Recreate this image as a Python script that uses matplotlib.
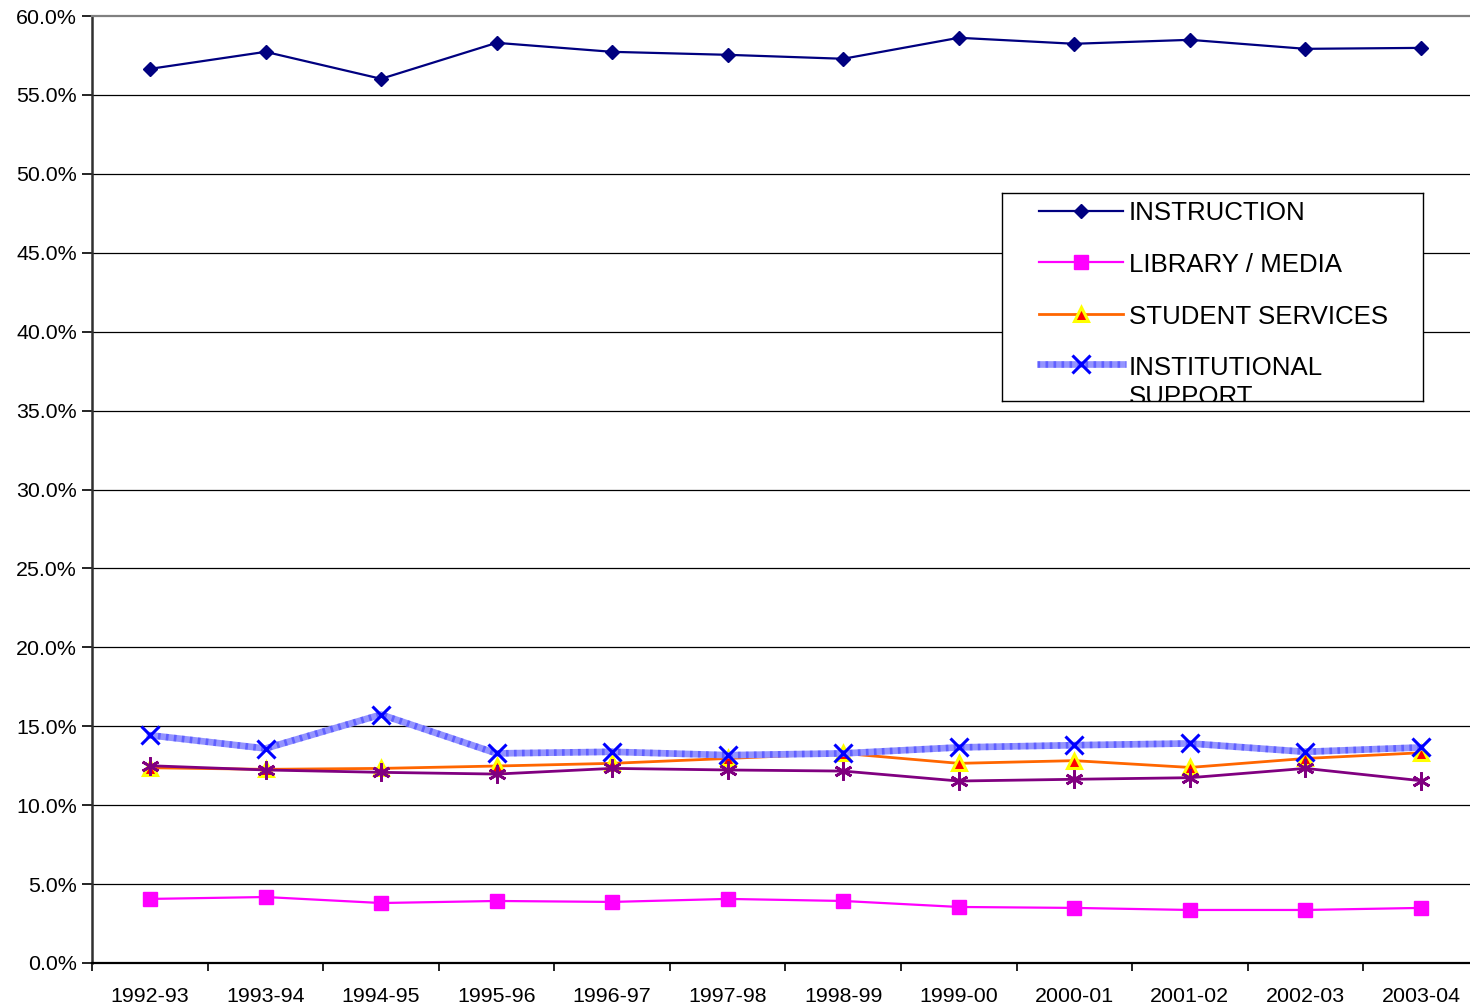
import matplotlib
matplotlib.use("Agg")
import matplotlib.pyplot as plt
import numpy as np
from matplotlib.ticker import FuncFormatter, FixedLocator

plt.rcParams['font.family'] = ['Liberation Sans', 'DejaVu Sans']

years = ["1992-93", "1993-94", "1994-95", "1995-96", "1996-97", "1997-98",
         "1998-99", "1999-00", "2000-01", "2001-02", "2002-03", "2003-04"]

instruction = [56.65, 57.73, 56.02, 58.30, 57.73, 57.54, 57.29, 58.62, 58.24, 58.49, 57.92, 57.98]
library_media = [4.06, 4.18, 3.80, 3.93, 3.87, 4.06, 3.93, 3.55, 3.49, 3.36, 3.36, 3.49]
student_services = [12.37, 12.27, 12.33, 12.48, 12.65, 12.96, 13.28, 12.65, 12.82, 12.39, 12.96, 13.32]
institutional_support = [14.43, 13.59, 15.74, 13.28, 13.38, 13.17, 13.28, 13.66, 13.80, 13.91, 13.38, 13.66]
other_series = [12.50, 12.23, 12.08, 11.97, 12.33, 12.23, 12.16, 11.53, 11.64, 11.74, 12.33, 11.55]

y_ticks = [0, 5, 10, 15, 20, 25, 30, 35, 40, 45, 50, 55, 60]
legend_labels = ["INSTRUCTION", "LIBRARY / MEDIA", "STUDENT SERVICES", "INSTITUTIONAL", "SUPPORT"]

W, H = 1470, 1008
fig = plt.figure(figsize=(W / 100, H / 100), dpi=100)
ax = fig.add_axes([92.2 / W, 45 / H, 1386.6 / W, 947 / H])

x = np.arange(len(years))

# styles
s_instr = dict(color='#000080', lw=1.6, marker='D', ms=7.5, mfc='#000080', mec='#000080')
s_lib = dict(color='#FF00FF', lw=1.6, marker='s', ms=10.5, mfc='#FF00FF', mec='#FF00FF')
s_stu = dict(color='#FF6600', lw=2.0, marker='^', ms=10.5, mfc='#FF0000', mec='#FFFF00', mew=2.2)
s_inst_line = dict(color='#9494FF', lw=4.8)
s_inst_mark = dict(color='#0000FF', lw=0, marker='x', ms=13, mew=2.2)
s_oth = dict(color='#800080', lw=2.0, marker=(6, 2, 0), ms=13, mew=2)

ax.plot(x, instruction, zorder=5, **s_instr)
ax.plot(x, library_media, zorder=5, **s_lib)
ax.plot(x, student_services, zorder=5, **s_stu)
ax.plot(x, other_series, zorder=6, **s_oth)
ax.plot(x, institutional_support, zorder=6, **s_inst_line)
ax.plot(x, institutional_support, zorder=6, color='#2222FF', lw=4.8, dashes=(0.4, 0.8), alpha=0.45)
ax.plot(x, institutional_support, zorder=7, **s_inst_mark)

ax.set_xlim(-0.5, len(years) - 0.5)
ax.set_ylim(0, 60)

ax.set_yticks(y_ticks)
ax.yaxis.set_major_formatter(FuncFormatter(lambda v, p: f"{v:.1f}%"))
ax.set_xticks(x)
ax.set_xticklabels(years)
ax.xaxis.set_minor_locator(FixedLocator(np.arange(-0.5, len(years), 1.0)))

ax.tick_params(axis='x', which='major', length=0, pad=17, labelsize=15.4)
ax.tick_params(axis='x', which='minor', length=6, width=1.2, color='black', direction='out')
ax.tick_params(axis='y', which='major', length=7, width=1.2, color='black', direction='out',
               pad=4, labelsize=15.4)

for v in y_ticks[1:-1]:
    ax.axhline(v, color='black', lw=0.9, zorder=1)

ax.spines['right'].set_visible(False)
ax.spines['top'].set_color('#808080')
ax.spines['top'].set_linewidth(1.6)
ax.spines['left'].set_color('#303030')
ax.spines['left'].set_linewidth(1.8)
ax.spines['bottom'].set_color('black')
ax.spines['bottom'].set_linewidth(1.6)

# legend box (clipped, like the original)
lx0, lx1, ly0, ly1 = 1002, 1423, 193, 401
lax = fig.add_axes([lx0 / W, (H - ly1) / H, (lx1 - lx0) / W, (ly1 - ly0) / H])
lax.set_xlim(lx0, lx1)
lax.set_ylim(ly1, ly0)
lax.set_xticks([]); lax.set_yticks([])
for sp in lax.spines.values():
    sp.set_color('black'); sp.set_linewidth(1.0)
lax.set_zorder(10)

hy = [211, 262, 314, 364]
ty = [220, 272, 323.5, 375, 404.5]
lax.plot([1039, 1123], [hy[0]] * 2, color=s_instr['color'], lw=s_instr['lw'])
lax.plot([1081], [hy[0]], lw=0, marker='D', ms=7.5, mfc='#000080', mec='#000080')
lax.plot([1039, 1123], [hy[1]] * 2, color=s_lib['color'], lw=s_lib['lw'])
lax.plot([1081], [hy[1]], lw=0, marker='s', ms=10.5, mfc='#FF00FF', mec='#FF00FF')
lax.plot([1039, 1123], [hy[2]] * 2, color=s_stu['color'], lw=s_stu['lw'])
lax.plot([1081], [hy[2]], lw=0, marker='^', ms=10.5, mfc='#FF0000', mec='#FFFF00', mew=2.2)
lax.plot([1037, 1126], [hy[3]] * 2, **s_inst_line, solid_capstyle='butt')
lax.plot([1037, 1126], [hy[3]] * 2, color='#2222FF', lw=4.8, dashes=(0.4, 0.8), alpha=0.45)
lax.plot([1081], [hy[3]], **s_inst_mark)

for lab, yy in zip(legend_labels, ty):
    lax.text(1129, yy, lab, fontsize=18.6, va='baseline', ha='left', color='black', clip_on=True)

fig.savefig("out.png", dpi=100)
